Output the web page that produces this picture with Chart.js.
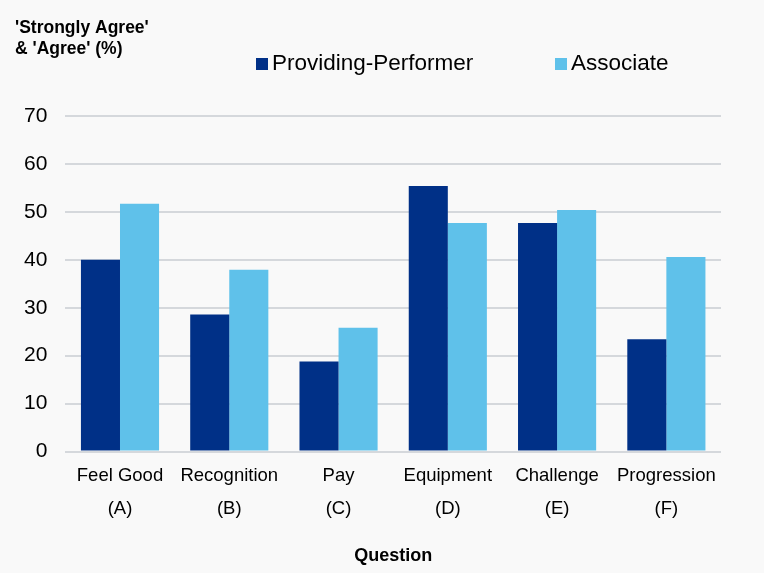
<!DOCTYPE html>
<html>
<head>
<meta charset="utf-8">
<script src="https://cdn.jsdelivr.net/npm/chart.js@4"></script>
<style>
  html, body { margin: 0; padding: 0; background: #f9f9f9; }
  #wrap { width: 764px; height: 573px; }
</style>
</head>
<body>
<div id="wrap"><canvas id="c" width="764" height="573"></canvas></div>
<script>
const categories = [['Feel Good','(A)'], ['Recognition','(B)'], ['Pay','(C)'], ['Equipment','(D)'], ['Challenge','(E)'], ['Progression','(F)']];
const providingPerformer = [40.0, 28.6, 18.8, 55.4, 47.7, 23.4];
const associate = [51.7, 37.9, 25.8, 47.7, 50.4, 40.6];
const yTitleLines = ["'Strongly Agree'", "& 'Agree' (%)"];
const xTitle = 'Question';
const seriesNames = ['Providing-Performer', 'Associate'];
const colors = ['#003087', '#5fc1ea'];

const FONT = '"Liberation Sans", Arial, sans-serif';

const extras = {
  id: 'extras',
  beforeDraw(chart) {
    const ctx = chart.ctx;
    ctx.save();
    ctx.fillStyle = '#f9f9f9';
    ctx.fillRect(0, 0, chart.width, chart.height);
    ctx.restore();
  },
  afterDraw(chart) {
    const ctx = chart.ctx;
    ctx.save();
    // y title
    ctx.fillStyle = '#000';
    ctx.font = 'bold 17.5px ' + FONT;
    ctx.textBaseline = 'middle';
    ctx.textAlign = 'left';
    yTitleLines.forEach((t, i) => ctx.fillText(t, 15, 28 + i * 21));
    // legend
    ctx.font = '22.5px ' + FONT;
    const starts = [256, 555];
    chart.data.datasets.forEach((ds, i) => {
      ctx.fillStyle = ds.backgroundColor;
      ctx.fillRect(starts[i], 58, 12, 12);
      ctx.fillStyle = '#000';
      ctx.fillText(ds.label, starts[i] + 16, 64);
    });
    ctx.restore();
  }
};

new Chart(document.getElementById('c'), {
  type: 'bar',
  data: {
    labels: categories,
    datasets: [
      { label: seriesNames[0], data: providingPerformer, backgroundColor: colors[0] },
      { label: seriesNames[1], data: associate, backgroundColor: colors[1] }
    ]
  },
  options: {
    responsive: false,
    animation: false,
    devicePixelRatio: 1,
    layout: { padding: { top: 116, left: 6, right: 43, bottom: 6 } },
    datasets: { bar: { barPercentage: 1.0, categoryPercentage: 0.715 } },
    plugins: {
      legend: { display: false },
      tooltip: { enabled: false }
    },
    scales: {
      x: {
        grid: { display: false },
        border: { display: false },
        ticks: { color: '#000', font: { family: FONT, size: 18.5, lineHeight: 1.78 }, padding: 0, maxRotation: 0 },
        title: { display: true, text: xTitle, color: '#000', font: { family: FONT, size: 18, weight: 'bold' }, padding: { top: 20, bottom: 0 } }
      },
      y: {
        min: 0, max: 70,
        ticks: { stepSize: 10, color: '#000', font: { family: FONT, size: 21 }, padding: 18 },
        grid: { color: '#d5d8dc', lineWidth: 2, drawTicks: false },
        border: { display: false }
      }
    }
  },
  plugins: [extras]
});
</script>
</body>
</html>
